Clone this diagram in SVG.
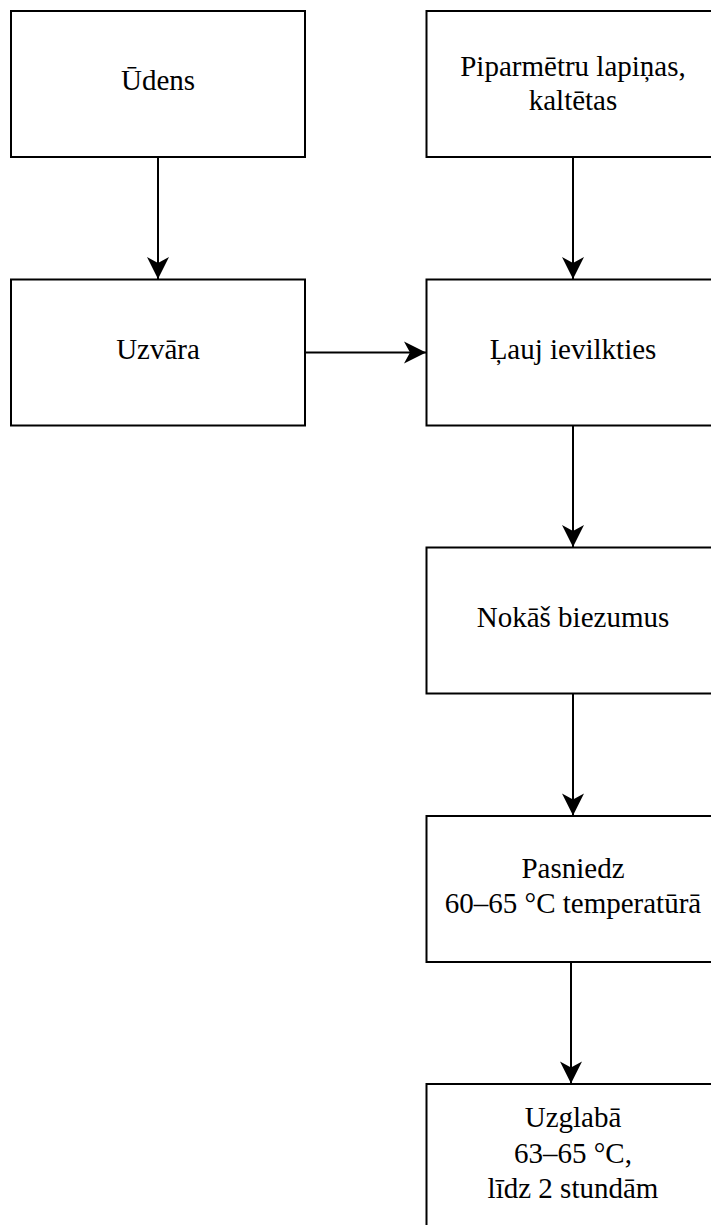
<svg xmlns="http://www.w3.org/2000/svg" width="711" height="1225" viewBox="0 0 711 1225">
<style>
.box{fill:#fff;stroke:#000;stroke-width:2}
.lbl{font-family:"Liberation Serif","Times New Roman",serif;font-size:29px;fill:#000;text-anchor:middle}
.edge{fill:none;stroke:#000;stroke-width:2;marker-end:url(#arrow)}
</style>
<defs>
<marker id="arrow" markerUnits="userSpaceOnUse" markerWidth="24" markerHeight="24" viewBox="-23 -12 24 24" refX="0" refY="0" orient="auto">
<path d="M0,0 L-22,-11 L-16,0 L-22,11 Z" fill="#000" stroke="none"/>
</marker>
</defs>
<rect width="711" height="1225" fill="#fff"/>
<g id="connectors">
<line class="edge" x1="158" y1="157" x2="158" y2="279"/>
<line class="edge" x1="573" y1="157" x2="573" y2="279"/>
<line class="edge" x1="305" y1="352.5" x2="426" y2="352.5"/>
<line class="edge" x1="573" y1="426" x2="573" y2="547"/>
<line class="edge" x1="573" y1="694" x2="573" y2="815.5"/>
<line class="edge" x1="571" y1="962" x2="571" y2="1083.5"/>
</g>
<g id="udens">
<rect class="box" x="11" y="11" width="294" height="146"/>
<text class="lbl" x="158" y="90">Ūdens</text>
</g>
<g id="piparmetru">
<rect class="box" x="426.5" y="11" width="294" height="146"/>
<text class="lbl" x="573" y="76">Piparmētru lapiņas,</text>
<text class="lbl" x="573" y="110">kaltētas</text>
</g>
<g id="uzvara">
<rect class="box" x="11" y="279.5" width="294" height="146"/>
<text class="lbl" x="158" y="359">Uzvāra</text>
</g>
<g id="lauj">
<rect class="box" x="426.5" y="279.5" width="294" height="146"/>
<text class="lbl" x="573" y="359">Ļauj ievilkties</text>
</g>
<g id="nokas">
<rect class="box" x="426.5" y="547.5" width="294" height="146"/>
<text class="lbl" x="573" y="627">Nokāš biezumus</text>
</g>
<g id="pasniedz">
<rect class="box" x="426.5" y="816" width="294" height="146"/>
<text class="lbl" x="573" y="878">Pasniedz</text>
<text class="lbl" x="573" y="913">60–65 °C temperatūrā</text>
</g>
<g id="uzglaba">
<rect class="box" x="426.5" y="1084" width="294" height="146"/>
<text class="lbl" x="573" y="1127">Uzglabā</text>
<text class="lbl" x="573" y="1163">63–65 °C,</text>
<text class="lbl" x="573" y="1198">līdz 2 stundām</text>
</g>
</svg>
